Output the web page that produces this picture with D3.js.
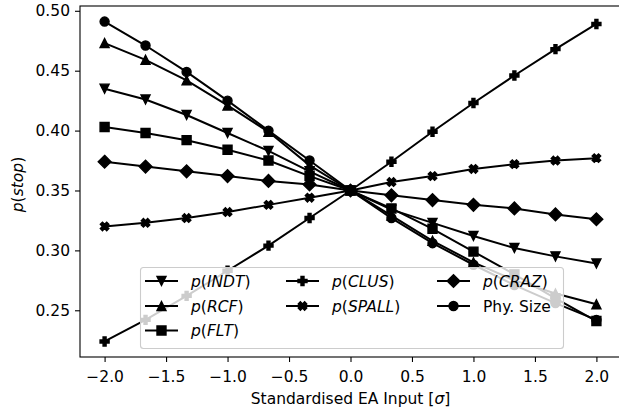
<!DOCTYPE html>
<html>
<head>
<meta charset="utf-8">
<script src="https://cdn.jsdelivr.net/npm/d3@7"></script>
<style>
  html, body { margin: 0; padding: 0; background: #fff; }
  svg { display: block; }
  text { font-family: "DejaVu Sans", sans-serif; fill: #000; }
</style>
</head>
<body>
<svg id="chart" width="619" height="411"></svg>
<script>
// Standardised input levels (x) and response probabilities per feature
const xValues = [-2, -1.667, -1.333, -1, -0.667, -0.333, 0, 0.333, 0.667, 1, 1.333, 1.667, 2];

const indt  = [0.435, 0.426, 0.413, 0.398, 0.383, 0.366, 0.350, 0.334, 0.323, 0.312, 0.302, 0.295, 0.289];
const rcf   = [0.473, 0.459, 0.442, 0.421, 0.399, 0.371, 0.350, 0.329, 0.308, 0.290, 0.275, 0.264, 0.255];
const flt   = [0.403, 0.398, 0.392, 0.384, 0.375, 0.362, 0.350, 0.335, 0.318, 0.299, 0.280, 0.260, 0.241];
const clus  = [0.224, 0.242, 0.262, 0.283, 0.304, 0.327, 0.350, 0.374, 0.399, 0.423, 0.446, 0.468, 0.489];
const spall = [0.320, 0.323, 0.327, 0.332, 0.338, 0.344, 0.350, 0.357, 0.362, 0.368, 0.372, 0.375, 0.377];
const craz  = [0.374, 0.370, 0.366, 0.362, 0.358, 0.355, 0.350, 0.346, 0.342, 0.338, 0.335, 0.330, 0.326];
const phy   = [0.491, 0.471, 0.449, 0.425, 0.400, 0.375, 0.350, 0.327, 0.306, 0.288, 0.271, 0.256, 0.242];

const seriesNames = ["p(INDT)", "p(RCF)", "p(FLT)", "p(CLUS)", "p(SPALL)", "p(CRAZ)", "Phy. Size"];
const seriesMarkers = ["tri-down", "tri-up", "square", "plus", "cross", "diamond", "circle"];
const seriesValues = [indt, rcf, flt, clus, spall, craz, phy];

const xTicks = [-2.0, -1.5, -1.0, -0.5, 0.0, 0.5, 1.0, 1.5, 2.0];
const yTicks = [0.25, 0.30, 0.35, 0.40, 0.45, 0.50];

// ---- layout ----
const svg = d3.select("#chart");
const plot = { left: 80, right: 621, top: 6, bottom: 357 };
const FS = 15.5;        // base font size (px)
const MS = 9;           // marker size (px)

const x = d3.scaleLinear().domain([-2.2, 2.2]).range([plot.left, plot.right]);
const y = d3.scaleLinear().domain([0.211, 0.504]).range([plot.bottom, plot.top]);

// ---- marker shapes, centred on the origin ----
function markerPath(kind, s) {
  const h = s / 2;
  switch (kind) {
    case "tri-down": return `M${-h},${-h}L${h},${-h}L0,${h}Z`;
    case "tri-up":   return `M0,${-h}L${h},${h}L${-h},${h}Z`;
    case "square":   return `M${-h},${-h}H${h}V${h}H${-h}Z`;
    case "diamond": {
      const d = s / Math.SQRT2;
      return `M0,${-d}L${d},0L0,${d}L${-d},0Z`;
    }
    case "circle":
      return `M${h},0A${h},${h} 0 1,1 ${-h},0A${h},${h} 0 1,1 ${h},0Z`;
    case "plus":
    case "cross": {
      const u = s / 6;
      const pts = [[-1,-3],[1,-3],[1,-1],[3,-1],[3,1],[1,1],[1,3],[-1,3],[-1,1],[-3,1],[-3,-1],[-1,-1]];
      const ang = kind === "cross" ? Math.PI / 4 : 0;
      const c = Math.cos(ang), sn = Math.sin(ang);
      return "M" + pts.map(([a, b]) => {
        const px = a * u, py = b * u;
        return `${(px * c - py * sn).toFixed(3)},${(px * sn + py * c).toFixed(3)}`;
      }).join("L") + "Z";
    }
  }
}

// ---- mathtext-like labels: italic letters, upright brackets ----
function addLabel(sel, label) {
  const m = /^([a-z])\((.+)\)$/.exec(label);
  if (!m) { sel.text(label); return; }
  sel.append("tspan").attr("font-style", "italic").text(m[1]);
  sel.append("tspan").text("(");
  sel.append("tspan").attr("font-style", "italic").text(m[2]);
  sel.append("tspan").text(")");
}

// ---- series ----
const line = d3.line().x(d => x(d[0])).y(d => y(d[1]));
const gSeries = svg.append("g");
seriesValues.forEach((vals, i) => {
  const pts = vals.map((v, j) => [xValues[j], v]);
  const g = gSeries.append("g");
  g.append("path")
    .attr("d", line(pts))
    .attr("fill", "none")
    .attr("stroke", "#000")
    .attr("stroke-width", 2);
  g.selectAll("path.mk").data(pts).enter().append("path")
    .attr("class", "mk")
    .attr("d", markerPath(seriesMarkers[i], MS))
    .attr("transform", d => `translate(${x(d[0])},${y(d[1])})`)
    .attr("fill", "#000")
    .attr("stroke", "#000")
    .attr("stroke-width", 1.4)
    .attr("stroke-linejoin", "miter");
});

// ---- axes frame ----
svg.append("rect")
  .attr("x", plot.left).attr("y", plot.top)
  .attr("width", plot.right - plot.left).attr("height", plot.bottom - plot.top)
  .attr("fill", "none").attr("stroke", "#000").attr("stroke-width", 1.1);

const xAxis = d3.axisBottom(x).tickValues(xTicks).tickSize(5).tickPadding(9)
  .tickFormat(d => d3.format(".1f")(d).replace("-", "\u2212"));
const gx = svg.append("g").attr("transform", `translate(0,${plot.bottom})`).call(xAxis);
const yAxis = d3.axisLeft(y).tickValues(yTicks).tickSize(5).tickPadding(5)
  .tickFormat(d3.format(".2f"));
const gy = svg.append("g").attr("transform", `translate(${plot.left},0)`).call(yAxis);
[gx, gy].forEach(g => {
  g.select(".domain").remove();
  g.selectAll(".tick line").attr("stroke", "#000").attr("stroke-width", 1.1);
  g.selectAll(".tick text").attr("font-size", FS).attr("font-family", "DejaVu Sans");
});

// axis titles
svg.append("text")
  .attr("x", (plot.left + plot.right) / 2).attr("y", 404)
  .attr("text-anchor", "middle").attr("font-size", FS)
  .call(t => {
    t.append("tspan").text("Standardised EA Input [");
    t.append("tspan").attr("font-style", "italic").text("\u03c3");
    t.append("tspan").text("]");
  });
svg.append("text")
  .attr("transform", `translate(23,${(plot.top + plot.bottom) / 2 + 3}) rotate(-90)`)
  .attr("text-anchor", "middle").attr("font-size", FS)
  .call(t => addLabel(t, "p(stop)"));

// ---- legend (3 columns, filled column by column) ----
const leg = { x: 140, y: 267, w: 423, h: 81 };
const gl = svg.append("g");
gl.append("rect")
  .attr("x", leg.x + 0.5).attr("y", leg.y + 0.5)
  .attr("width", leg.w).attr("height", leg.h)
  .attr("rx", 3).attr("ry", 3)
  .attr("fill", "#fff").attr("fill-opacity", 0.8)
  .attr("stroke", "#cccccc").attr("stroke-width", 1.1);

const colX = [145, 286, 437];
const rowY = [281, 306, 330.5];
const colOf = [0, 0, 0, 1, 1, 2, 2];
const rowOf = [0, 1, 2, 0, 1, 0, 1];
seriesNames.forEach((name, i) => {
  const hx = colX[colOf[i]], hy = rowY[rowOf[i]];
  gl.append("line")
    .attr("x1", hx).attr("x2", hx + 33).attr("y1", hy).attr("y2", hy)
    .attr("stroke", "#000").attr("stroke-width", 2);
  gl.append("path")
    .attr("d", markerPath(seriesMarkers[i], MS))
    .attr("transform", `translate(${hx + 16.5},${hy})`)
    .attr("fill", "#000").attr("stroke", "#000").attr("stroke-width", 1.4);
  gl.append("text")
    .attr("x", hx + 46).attr("y", hy + 5.5)
    .attr("font-size", FS)
    .call(t => addLabel(t, name));
});
</script>
</body>
</html>
